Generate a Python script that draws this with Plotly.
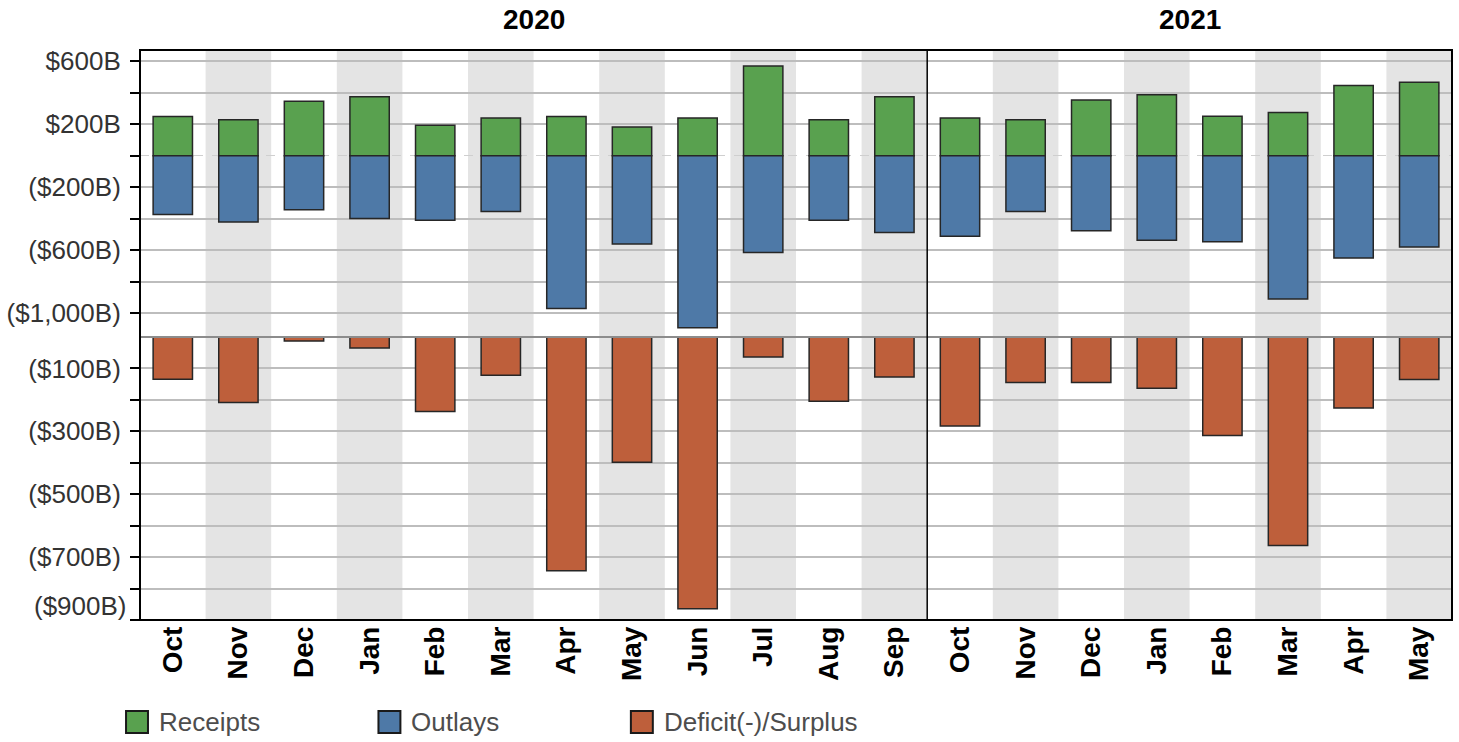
import plotly.graph_objects as go
from plotly.subplots import make_subplots

# ---------------- data ----------------
years = ["2020", "2021"]
months_2020 = ["Oct", "Nov", "Dec", "Jan", "Feb", "Mar", "Apr", "May", "Jun", "Jul", "Aug", "Sep"]
months_2021 = ["Oct", "Nov", "Dec", "Jan", "Feb", "Mar", "Apr", "May"]

receipts_2020 = [249, 228, 345, 375, 193, 239, 249, 182, 239, 570, 228, 375]
outlays_2020 = [373, 421, 343, 398, 410, 354, 970, 560, 1092, 614, 410, 488]
deficit_2020 = [-134, -208, -13, -35, -237, -122, -743, -398, -864, -64, -204, -127]

receipts_2021 = [239, 228, 354, 387, 251, 274, 446, 467]
outlays_2021 = [511, 354, 477, 536, 547, 909, 649, 580]
deficit_2021 = [-283, -145, -145, -163, -313, -663, -226, -135]

series_names = ["Receipts", "Outlays", "Deficit(-)/Surplus"]
series_colors = ["#59a14f", "#4e79a7", "#be5f3b"]

top_tickvals = [600, 400, 200, -200, -400, -600, -800, -1000]
top_labeled = [600, 200, -200, -600, -1000]
bot_tickvals = [-100, -200, -300, -400, -500, -600, -700, -800, -900]
bot_labeled = [-100, -300, -500, -700]


def fmt(v):
    return f"${v:,}B" if v > 0 else f"(${-v:,}B)"


FONT = "Liberation Sans, Arial, sans-serif"
W, H = 1459, 742
ML, MT = 137, 50
MB = H - 620
MR = 7
PW, PH = W - ML - MR, H - MT - MB

fig = make_subplots(rows=2, cols=2, column_widths=[12, 8], row_heights=[287, 283],
                    horizontal_spacing=0, vertical_spacing=0)

bar_line = dict(color="#262626", width=1.5)
data_sets = [
    (months_2020, receipts_2020, outlays_2020, deficit_2020, 1),
    (months_2021, receipts_2021, outlays_2021, deficit_2021, 2),
]
for months, rec, out, dfc, col in data_sets:
    fig.add_trace(go.Bar(x=months, y=rec, name=series_names[0], width=0.6,
                         marker=dict(color=series_colors[0], line=bar_line), showlegend=False),
                  row=1, col=col)
    fig.add_trace(go.Bar(x=months, y=[-v for v in out], name=series_names[1], width=0.6,
                         marker=dict(color=series_colors[1], line=bar_line), showlegend=False),
                  row=1, col=col)
    fig.add_trace(go.Bar(x=months, y=dfc, name=series_names[2], width=0.6,
                         marker=dict(color=series_colors[2], line=bar_line), showlegend=False),
                  row=2, col=col)

fig.update_layout(barmode="relative")

# alternating bands
axis_ids = {(1, 1): ("x", "y"), (1, 2): ("x2", "y2"), (2, 1): ("x3", "y3"), (2, 2): ("x4", "y4")}
for (r, c), (xa, ya) in axis_ids.items():
    months = months_2020 if c == 1 else months_2021
    for i in range(len(months)):
        if i % 2 == 1:
            fig.add_shape(type="rect", xref=xa, yref=f"{ya} domain", x0=i - 0.5, x1=i + 0.5,
                          y0=0, y1=1, fillcolor="#e4e4e4", line=dict(width=0), layer="below")

grid = dict(showgrid=True, gridcolor="#bdbdbd", gridwidth=1.5, zeroline=False)
top_text = [fmt(v) if v in top_labeled else "" for v in top_tickvals]
bot_text = [fmt(v) if v in bot_labeled else "" for v in bot_tickvals]
tickfont = dict(family=FONT, size=26, color="#333333")

for ya in ["yaxis", "yaxis2"]:
    fig.layout[ya].update(range=[-1151, 671], tickmode="array", tickvals=top_tickvals,
                          ticktext=top_text, **grid,
                          minor=dict(tickmode="array", tickvals=[0], showgrid=True, gridcolor="#cfcfcf",
                                     griddash="dash", gridwidth=1,
                                     ticks="outside" if ya == "yaxis" else "", ticklen=9,
                                     tickwidth=2, tickcolor="black"))
for ya in ["yaxis3", "yaxis4"]:
    fig.layout[ya].update(range=[-900, 0], tickmode="array", tickvals=bot_tickvals,
                          ticktext=bot_text, **grid)

for ya in ["yaxis", "yaxis3"]:
    fig.layout[ya].update(ticks="outside", ticklen=9, tickwidth=2, tickcolor="black",
                          tickfont=tickfont, ticklabelstandoff=4)
for ya in ["yaxis2", "yaxis4"]:
    fig.layout[ya].update(showticklabels=False, ticks="")

for xa in ["xaxis", "xaxis2"]:
    fig.layout[xa].update(showticklabels=False, ticks="", showgrid=False)
for xa in ["xaxis3", "xaxis4"]:
    fig.layout[xa].update(tickangle=-90, ticks="", showgrid=False,
                          tickfont=dict(family=FONT, size=28, color="black", weight="bold"))

# the -900 label shifted up inside the panel, like the original
fig.add_annotation(xref="paper", yref="y3", x=0, y=-900, text=fmt(-900), showarrow=False,
                   xanchor="right", yanchor="middle", xshift=-11, yshift=14,
                   font=tickfont)

# frame and dividers
split_x = fig.layout.xaxis.domain[1]
split_y = fig.layout.yaxis3.domain[1]
fig.add_shape(type="line", xref="paper", yref="paper", x0=0, x1=1, y0=split_y, y1=split_y,
              line=dict(color="#8c8c8c", width=2), layer="above")
fig.add_shape(type="line", xref="paper", yref="paper", x0=split_x, x1=split_x, y0=0, y1=1,
              line=dict(color="black", width=1.5), layer="above")
fig.add_shape(type="rect", xref="paper", yref="paper", x0=0, x1=1, y0=0, y1=1,
              line=dict(color="black", width=2), layer="above")

# column titles
col_centers = [split_x / 2, (split_x + 1) / 2]
for yr, cx in zip(years, col_centers):
    fig.add_annotation(xref="paper", yref="paper", x=cx, y=1 + 31 / PH, text=f"<b>{yr}</b>",
                       showarrow=False, font=dict(family=FONT, size=28, color="black"),
                       xanchor="center", yanchor="middle")

# legend (drawn manually so the swatches match the original size); page pixel positions
legend_x_px = [123, 376, 629]
sw = 22
ly_center = 722
for name, color, lx in zip(series_names, series_colors, legend_x_px):
    fig.add_shape(type="rect", xref="paper", yref="paper",
                  x0=(lx - ML) / PW, x1=(lx + sw - ML) / PW,
                  y0=(H - MB - (ly_center - sw / 2)) / PH, y1=(H - MB - (ly_center + sw / 2)) / PH,
                  fillcolor=color, line=dict(color="#1a1a1a", width=2), layer="above")
    fig.add_annotation(xref="paper", yref="paper", x=(lx + sw + 9 - ML) / PW,
                       y=(H - MB - ly_center) / PH, text=name, showarrow=False,
                       xanchor="left", yanchor="middle",
                       font=dict(family=FONT, size=26, color="#4d4d4d"))

fig.update_layout(width=W, height=H, margin=dict(l=ML, r=MR, t=MT, b=MB),
                  paper_bgcolor="white", plot_bgcolor="white", showlegend=False,
                  font=dict(family=FONT), bargap=0.4)

fig.write_html("out.html", config={"displayModeBar": False},
               post_script="document.body.style.margin='0';document.body.style.overflow='hidden';")
